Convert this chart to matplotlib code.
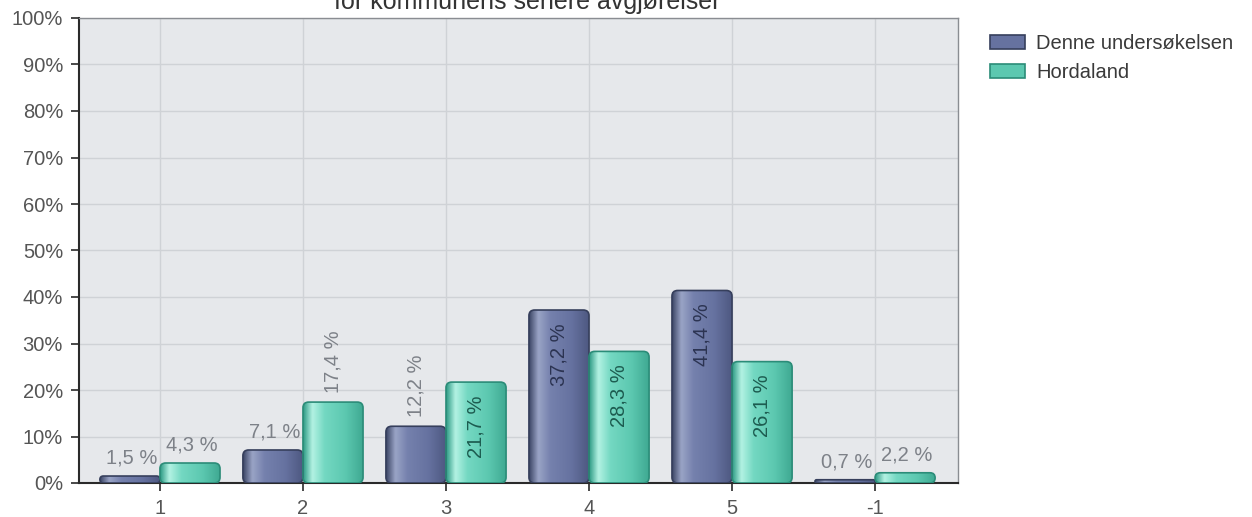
import numpy as np
import matplotlib
matplotlib.use('Agg')
import matplotlib.pyplot as plt
from matplotlib.patches import FancyBboxPatch, Patch
from matplotlib.colors import to_rgb

plt.rcParams['font.family'] = ['Liberation Sans', 'DejaVu Sans']

# data
categories = ['1', '2', '3', '4', '5', '-1']
denne = [1.5, 7.1, 12.2, 37.2, 41.4, 0.7]
hordaland = [4.3, 17.4, 21.7, 28.3, 26.1, 2.2]
series_names = ['Denne undersøkelsen', 'Hordaland']
title_line = 'for kommunens senere avgjørelser'

# colour stops across each bar (left -> right) to fake the cylinder look
dark_stops = ['#3e4868', '#9aa4c6', '#7581ad', '#6672a0', '#4d5780']
teal_stops = ['#2f9c86', '#b3f2e3', '#74d8c2', '#5cc8b0', '#3ea891']
dark_edge = '#363f5c'
teal_edge = '#2b8c78'
dark_text = '#2c3452'
teal_text = '#1d5c50'
label_gray = '#7d8188'
FS = 14.5

W, H = 1252, 517


def gradient(stops, n=64):
    pos = np.array([0.0, 0.15, 0.35, 0.7, 1.0])
    cols = np.array([to_rgb(c) for c in stops])
    xs = np.linspace(0, 1, n)
    rgb = np.stack([np.interp(xs, pos, cols[:, k]) for k in range(3)], axis=-1)
    return rgb[np.newaxis, :, :]


fig = plt.figure(figsize=(W / 100, H / 100), dpi=100)
# plot area: x 79..958, y 18..483 px
ax = fig.add_axes([79 / W, 1 - 483 / H, 879 / W, 465 / H])
ax.set_facecolor('#e6e8eb')

x = np.arange(len(categories))
w = 0.42
ylim = (0, 100)
xlim = (-0.566, 5.58)
# y-units per x-unit in screen terms, used for rounded corners
aspect = (100 / 465) / (1 / 143)


def draw_bars(offset, vals, stops, edge, incol):
    bars = ax.bar(x + offset, vals, width=w, color='none', edgecolor='none', zorder=2)
    img = gradient(stops)
    for b, v in zip(bars, vals):
        x0, h = b.get_x(), b.get_height()
        rs = min(0.04, h / aspect / 2)
        p = FancyBboxPatch((x0, 0), w, h, boxstyle='round,pad=0,rounding_size=%f' % rs,
                           mutation_aspect=aspect, facecolor='none', edgecolor=edge,
                           linewidth=1.2, zorder=4)
        ax.add_patch(p)
        im = ax.imshow(img, extent=(x0, x0 + w, 0, h), aspect='auto', zorder=3,
                       interpolation='bilinear')
        im.set_clip_path(p)
        cx = x0 + w / 2
        txt = f'{v:.1f} %'.replace('.', ',')
        if v >= 20:
            ax.annotate(txt, (cx, v), xytext=(0, -9.5), textcoords='offset points',
                        rotation=90, ha='center', va='top', fontsize=FS,
                        color=incol, zorder=5)
        elif v >= 10:
            ax.annotate(txt, (cx, v), xytext=(0, 6.5), textcoords='offset points',
                        rotation=90, ha='center', va='bottom', fontsize=FS,
                        color=label_gray, zorder=5)
        else:
            ax.annotate(txt, (cx, v), xytext=(1, 6), textcoords='offset points',
                        ha='center', va='bottom', fontsize=FS,
                        color=label_gray, zorder=5)


draw_bars(-w / 2, denne, dark_stops, dark_edge, dark_text)
draw_bars(w / 2, hordaland, teal_stops, teal_edge, teal_text)

ax.set_xlim(*xlim)
ax.set_ylim(*ylim)
ax.set_xticks(x)
ax.set_xticklabels(categories)
ax.set_yticks(np.arange(0, 101, 10))
ax.set_yticklabels([f'{v}%' for v in range(0, 101, 10)])
ax.tick_params(axis='both', labelsize=FS, colors='#2a2a2a', labelcolor='#555555',
               length=5.5, width=1.2)
ax.tick_params(axis='y', pad=6)
ax.tick_params(axis='x', pad=6)
ax.grid(True, color='#cfd2d6', linewidth=1, zorder=0)
ax.set_axisbelow(True)

for s in ['left', 'bottom']:
    ax.spines[s].set_color('#2a2a2a')
    ax.spines[s].set_linewidth(1.5)
for s in ['top', 'right']:
    ax.spines[s].set_color('#8a8d92')
    ax.spines[s].set_linewidth(1)

# only the lower part of the title shows at the top edge
fig.text(527 / W, 1 - 9 / H, title_line, ha='center', va='baseline',
         fontsize=18, color='#333333')

handles = [Patch(facecolor='#6672a0', edgecolor=dark_edge, linewidth=1.2),
           Patch(facecolor='#5cc8b0', edgecolor=teal_edge, linewidth=1.2)]
fig.legend(handles, series_names, loc='upper left', bbox_to_anchor=(990 / W, 1 - 34 / H),
           frameon=False, fontsize=FS, handlelength=1.75, handleheight=0.7,
           handletextpad=0.55, labelspacing=0.5, borderpad=0, borderaxespad=0,
           labelcolor='#3a3a3a')

fig.savefig('out.png', dpi=100)
